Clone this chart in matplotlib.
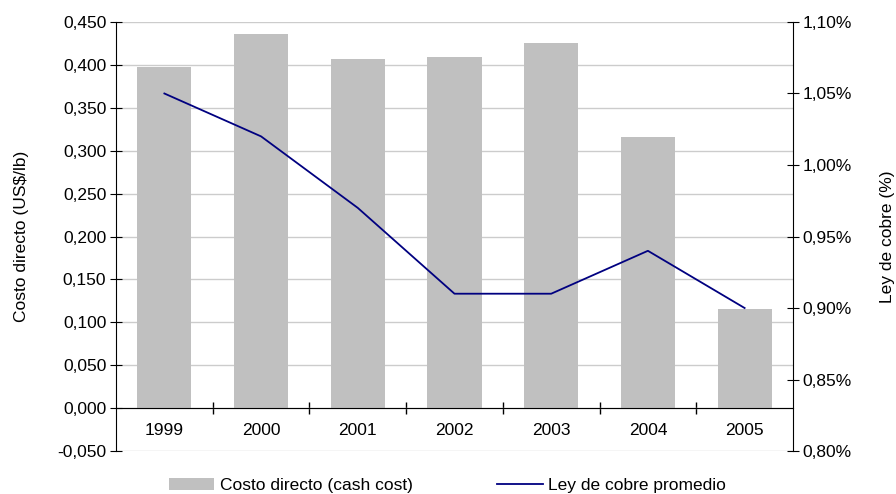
import matplotlib.pyplot as plt
from matplotlib.ticker import FuncFormatter, FixedLocator

plt.rcParams['font.family'] = ['Liberation Sans', 'DejaVu Sans']

years = ["1999", "2000", "2001", "2002", "2003", "2004", "2005"]
costo = [0.398, 0.436, 0.407, 0.409, 0.426, 0.316, 0.116]
ley = [1.05, 1.02, 0.97, 0.91, 0.91, 0.94, 0.90]

fig = plt.figure(figsize=(8.96, 4.94), dpi=100)
ax = fig.add_axes([0.1295, 0.087, 0.7555, 0.8685])
x = list(range(len(years)))

ax.bar(x, costo, width=0.56, color="#c0c0c0", label="Costo directo (cash cost)", zorder=2)
ax.set_xlim(-0.5, len(years) - 0.5)
ax.set_ylim(-0.05, 0.45)
ax.set_yticks([i * 0.05 for i in range(-1, 10)])
ax.yaxis.set_major_formatter(FuncFormatter(lambda v, p: f"{v:.3f}".replace(".", ",")))
ax.grid(axis="y", color="#cccccc", linewidth=1, zorder=0)
ax.set_axisbelow(True)
ax.spines["top"].set_visible(False)
ax.spines["right"].set_visible(False)
ax.spines["bottom"].set_position(("data", 0))
ax.spines["bottom"].set_zorder(3)
ax.xaxis.set_major_locator(FixedLocator([i + 0.5 for i in x[:-1]]))
ax.xaxis.set_minor_locator(FixedLocator(x))
ax.set_xticklabels([], minor=False)
ax.set_xticklabels(years, minor=True)
ax.tick_params(axis="x", which="major", direction="inout", length=8, width=1)
ax.tick_params(axis="x", which="minor", length=0, pad=11, labelsize=12.5)
ax.tick_params(axis="y", direction="inout", length=8, labelsize=12.5, pad=3)
ax.set_ylabel("Costo directo (US$/lb)", fontsize=12.5, labelpad=20)

ax2 = ax.twinx()
ax2.plot(x, ley, color="#000080", linewidth=1.3, label="Ley de cobre promedio")
ax2.set_ylim(0.80, 1.10)
ax2.set_yticks([0.80 + i * 0.05 for i in range(7)])
ax2.yaxis.set_major_formatter(FuncFormatter(lambda v, p: f"{v:.2f}%".replace(".", ",")))
ax2.tick_params(axis="y", direction="inout", length=8, labelsize=12.5, pad=3)
for s in ["top", "left", "bottom"]:
    ax2.spines[s].set_visible(False)
ax2.set_ylabel("Ley de cobre (%)", fontsize=12.5, labelpad=20)

h1, l1 = ax.get_legend_handles_labels()
h2, l2 = ax2.get_legend_handles_labels()
fig.legend(h1 + h2, l1 + l2, loc="lower center", bbox_to_anchor=(0.4994, -0.03), ncol=2,
           frameon=False, fontsize=12.5, handlelength=2.6, handleheight=0.7,
           columnspacing=4.9, handletextpad=0.3)

fig.savefig("out.png", dpi=100)
